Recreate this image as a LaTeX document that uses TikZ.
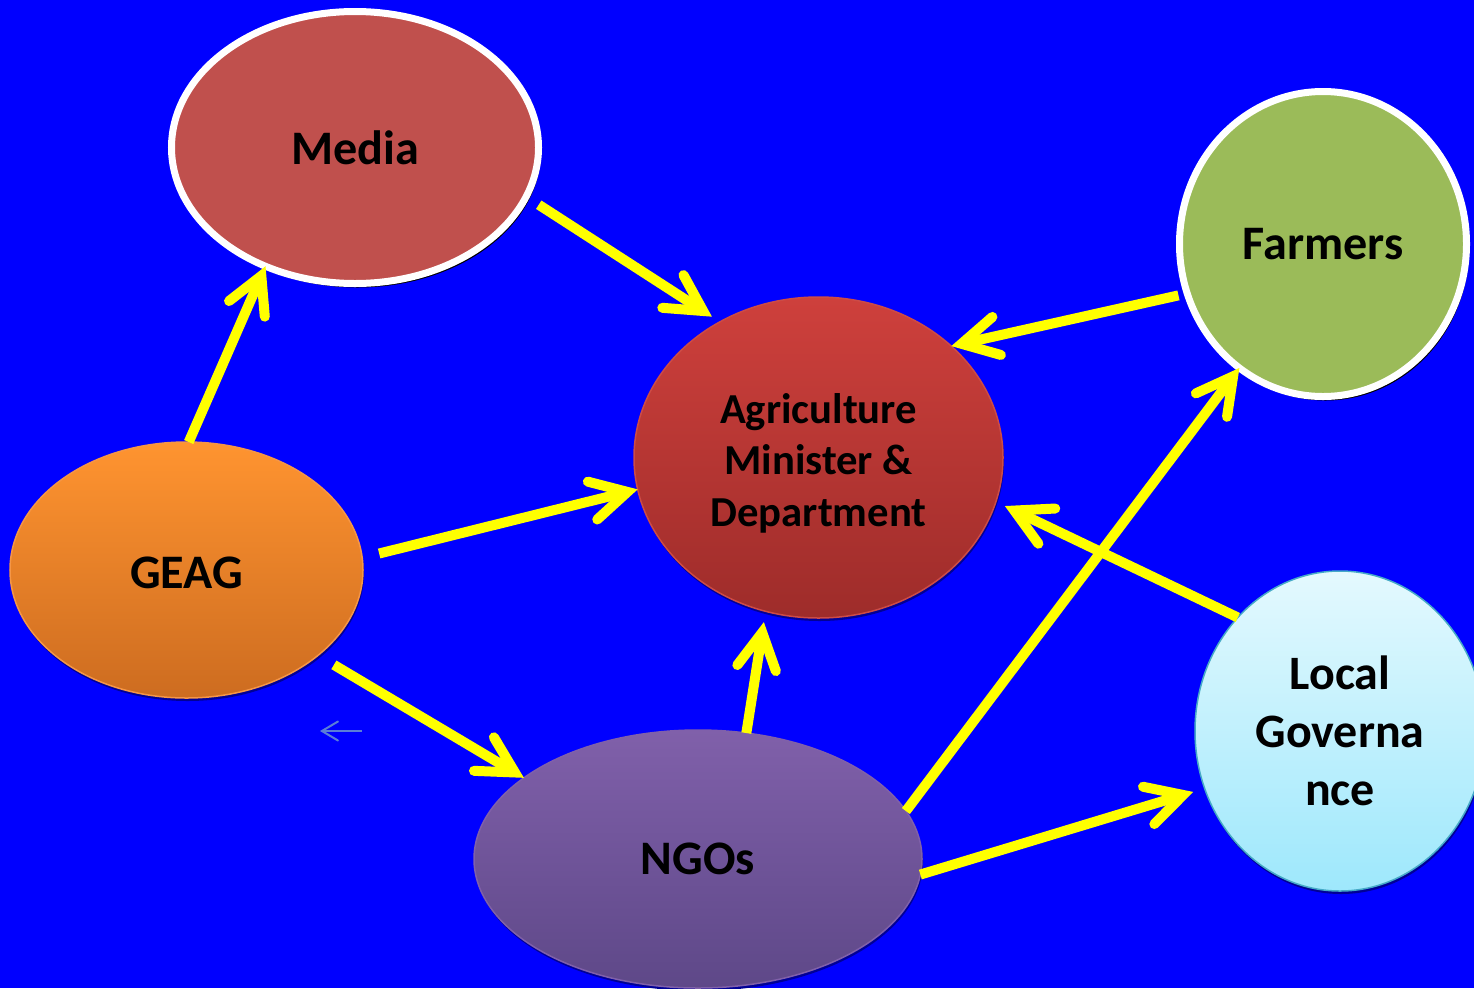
\documentclass[tikz,border=0pt]{standalone}
\usepackage{fontspec}
\setmainfont{Carlito}
\usetikzlibrary{arrows.meta,shapes.geometric,shadows}
\definecolor{bgblue}{RGB}{0,0,255}
\definecolor{arrowyellow}{RGB}{255,255,0}
\definecolor{mediafill}{RGB}{192,80,77}
\definecolor{farmfill}{RGB}{155,187,89}
\definecolor{agritop}{RGB}{206,64,60}
\definecolor{agribot}{RGB}{158,44,42}
\definecolor{agriline}{RGB}{205,75,70}
\definecolor{geagtop}{RGB}{255,148,48}
\definecolor{geagbot}{RGB}{205,108,32}
\definecolor{geagline}{RGB}{245,150,70}
\definecolor{ngotop}{RGB}{128,96,170}
\definecolor{ngobot}{RGB}{94,72,136}
\definecolor{lgtop}{RGB}{228,249,254}
\definecolor{lgbot}{RGB}{158,232,252}
\definecolor{lgline}{RGB}{70,170,200}
\definecolor{faintblue}{RGB}{90,125,215}
\definecolor{darkshadow}{RGB}{0,0,150}
\begin{document}
\begin{tikzpicture}[x=0.2mm,y=-0.2mm,
  bubble/.style={ellipse, inner sep=0pt, outer sep=0pt, align=center, text=black,
    font=\fontsize{27.4}{30}\selectfont\bfseries},
  whiteedge/.style={draw=white, line width=1.4mm,
    drop shadow={shadow xshift=0.5mm, shadow yshift=-0.8mm, fill=black, opacity=1}},
  softshadow/.style={drop shadow={shadow xshift=0.2mm, shadow yshift=-0.6mm, fill=darkshadow, opacity=1}},
  conn/.style={draw=arrowyellow, line width=2mm,
    -{Straight Barb[length=7.2mm,width=7.8mm,line cap=round,line join=miter]}},
  faint/.style={draw=faintblue, line width=0.4mm,
    -{Straight Barb[length=3.2mm,width=3.8mm,line cap=round]}}
  ]
  \useasboundingbox (0,0) rectangle (1474,988);
  \fill[bgblue] (0,0) rectangle (1474,988);
  \clip (0,0) rectangle (1474,988);

  \node[bubble, whiteedge, fill=mediafill, minimum width=73.4mm, minimum height=54.4mm]
    (media) at (355,147.5) {Media};
  \node[bubble, whiteedge, fill=farmfill, minimum width=57.4mm, minimum height=61mm]
    (farmers) at (1323,244) {Farmers};
  \node[bubble, softshadow, top color=agritop, bottom color=agribot, draw=agriline, line width=0.3mm,
    minimum width=73.8mm, minimum height=64.2mm, font=\fontsize{24.3}{29.2}\selectfont\bfseries]
    (agri) at (818.5,457.5)
    {\raisebox{-1.4mm}[\height][\depth]{\begin{tabular}{@{}c@{}}Agriculture\\Minister \&\\Department\end{tabular}}};
  \node[bubble, softshadow, top color=geagtop, bottom color=geagbot, draw=geagline, line width=0.3mm,
    minimum width=70.6mm, minimum height=51.2mm]
    (geag) at (186.5,570) {\raisebox{-0.6mm}[\height][\depth]{GEAG}};
  \node[bubble, softshadow, top color=ngotop, bottom color=ngobot, draw=ngotop, line width=0.3mm,
    minimum width=89.6mm, minimum height=51.6mm]
    (ngos) at (698,859) {NGOs};
  \node[bubble, softshadow, top color=lgtop, bottom color=lgbot, draw=lgline, line width=0.3mm,
    minimum width=58mm, minimum height=64mm, font=\fontsize{27.3}{33}\selectfont\bfseries]
    (lg) at (1340,731) {Local\\Governa\\nce};

  \draw[conn] (geag.89) -- (media.233.6);
  \draw[conn, shorten <=3mm, shorten >=1.9mm] (media.-16.7) -- (agri.126.1);
  \draw[conn, shorten <=1.8mm] (farmers.200.6) -- (agri.40.5);
  \draw[conn, shorten <=3.5mm] (geag.4.4) -- (agri.190.6);
  \draw[conn, shorten <=3.7mm] (geag.-33.7) -- (ngos.155.3);
  \draw[conn, shorten >=2.2mm] (ngos.69.5) -- (agri.251);
  \draw[conn] (ngos.13.3) -- (farmers.236.2);
  \draw[conn, shorten >=2mm] (lg.132.1) -- (agri.-14.9);
  \draw[conn, shorten >=2.4mm] (ngos.-4.3) -- (lg.203.2);

  \coordinate (sa) at (362,731);
  \coordinate (sb) at (320,731);
  \draw[faint] (sa) -- (sb);
\end{tikzpicture}
\end{document}
